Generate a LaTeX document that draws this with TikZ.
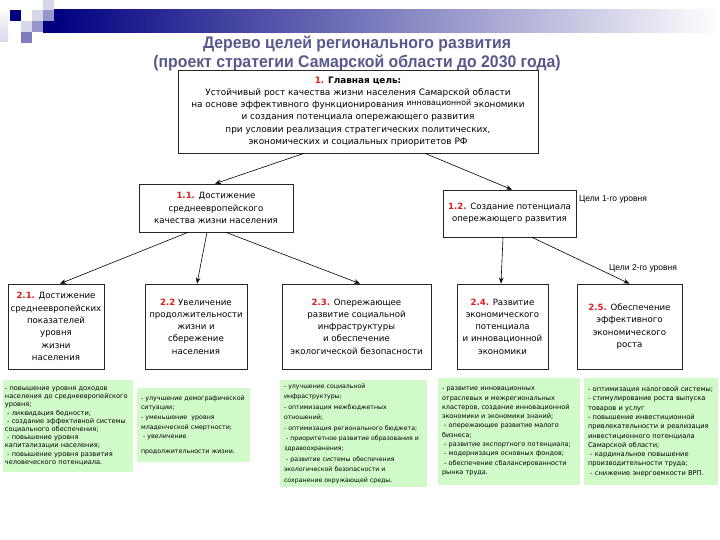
\documentclass[tikz,border=0pt]{standalone}
\usepackage{fontspec}
\setmainfont{DejaVu Sans}
\newfontfamily\titlefont[FakeStretch=0.94]{Liberation Sans}
\newfontfamily\labelfont{Liberation Sans}
\usetikzlibrary{arrows.meta}
\definecolor{titleblue}{RGB}{88,88,140}
\definecolor{numred}{RGB}{220,30,30}
\definecolor{navy}{RGB}{0,0,128}
\definecolor{greenfill}{RGB}{208,250,200}
\definecolor{lav1}{RGB}{215,215,235}
\definecolor{lav2}{RGB}{150,150,205}
\definecolor{lav3}{RGB}{125,125,190}
\newcommand{\nr}[1]{\textcolor{numred}{\textbf{#1}}}
\begin{document}
\begin{tikzpicture}[x=1pt,y=-1pt,
  goal/.style={draw=black!85, line width=0.7pt, fill=white, align=center, inner sep=2pt,
    font=\fontsize{8.6}{12.3}\selectfont},
  note/.style={fill=greenfill, draw=none, align=left, inner sep=4pt,
    font=\fontsize{6.2}{8.2}\selectfont},
  conn/.style={-{Stealth[length=6pt,width=4.5pt]}, line width=0.6pt},
  lvl/.style={font=\labelfont\fontsize{8.5}{10}\selectfont, anchor=west, inner sep=0pt}]

\useasboundingbox (0,0) rectangle (720,540);
\fill[white] (0,0) rectangle (720,540);

% header decoration
\shade[left color=navy, right color=white] (54,10) rectangle (720,33);
\fill[navy] (43,21) rectangle (54,33);
\shade[top color=white, bottom color=lav1] (0,8) rectangle (8,42);
\fill[lav1] (43,0) rectangle (54,10);
\fill[navy] (10,10) rectangle (21,21);
\fill[lav1] (32,10) rectangle (43,21);
\fill[lav2] (43,10) rectangle (54,21);
\fill[lav1] (21,21) rectangle (32,32);
\fill[lav2] (32,21) rectangle (43,32);
\fill[lav3] (21,32) rectangle (32,43);

% title
\node[font=\titlefont\bfseries\fontsize{16.8}{19}\selectfont, text=titleblue, align=center] (t) at (357,53)
  {Дерево целей регионального развития\\(проект стратегии Самарской области до 2030 года)};

% main goal
\node[goal, minimum width=360pt, minimum height=83pt, font=\fontsize{8.9}{12.3}\selectfont] (m) at (358,111.5)
  {\nr{1.} \textbf{Главная цель:}\\
   Устойчивый рост качества жизни населения Самарской области\\
   на основе эффективного функционирования \raisebox{2.5pt}{\fontsize{7.8}{8}\selectfont инновационной} экономики\\
   и создания потенциала опережающего развития\\
   при условии реализация стратегических политических,\\
   экономических и социальных приоритетов РФ};

% level 1
\node[goal, minimum width=154pt, minimum height=48pt] (b11) at (216,208)
  {\nr{1.1.} Достижение\\среднеевропейского\\качества жизни населения};
\node[goal, minimum width=133pt, minimum height=47pt] (b12) at (509.5,213.5)
  {\nr{1.2.} Создание потенциала\\опережающего развития};

% level 2
\node[goal, minimum width=96pt, minimum height=85pt] (b21) at (56,326.5)
  {\nr{2.1.} Достижение\\среднеевропейских\\показателей\\уровня\\жизни\\населения};
\node[goal, minimum width=102pt, minimum height=85pt] (b22) at (196,326.5)
  {\nr{2.2} Увеличение\\продолжительности\\жизни и\\сбережение\\населения};
\node[goal, minimum width=149pt, minimum height=85pt] (b23) at (356.5,326.5)
  {\nr{2.3.} Опережающее\\развитие социальной\\инфраструктуры\\и обеспечение\\экологической безопасности};
\node[goal, minimum width=91pt, minimum height=85pt] (b24) at (502.5,326.5)
  {\nr{2.4.} Развитие\\экономического\\потенциала\\и инновационной\\экономики};
\node[goal, minimum width=105pt, minimum height=85pt] (b25) at (629.5,326.5)
  {\nr{2.5.} Обеспечение\\эффективного\\экономического\\роста};

% level labels
\node[lvl] (l1) at (579,199) {Цели 1-го уровня};
\node[lvl] (l2) at (609,268) {Цели 2-го уровня};

% connectors
\draw[conn] ([xshift=-54pt]m.south) -- ([xshift=-1pt]b11.north);
\draw[conn] ([xshift=67pt]m.south) -- ([xshift=2.5pt]b12.north);
\draw[conn] ([xshift=-28pt]b11.south) -- ([xshift=4pt]b21.north);
\draw[conn] ([xshift=-9pt]b11.south) -- ([xshift=1pt]b22.north);
\draw[conn] ([xshift=10pt]b11.south) -- ([xshift=3.5pt]b23.north);
\draw[conn] ([xshift=-6.5pt]b12.south) -- ([xshift=-1.5pt]b24.north);
\draw[conn] ([xshift=22.5pt]b12.south) -- ([xshift=0pt]b25.north);

% notes
\node[note, minimum width=130pt, minimum height=92pt, text width=126pt, inner sep=2pt,
  font=\fontsize{6.6}{8.2}\selectfont] (g1) at (68,426)
  {- повышение уровня доходов\\
   населения до среднеевропейского\\
   уровня;\\
   \ - ликвидация бедности;\\
   \ - создание эффективной системы\\
   социального обеспечения;\\
   \ - повышение уровня\\
   капитализации населения;\\
   \ - повышение уровня развития\\
   человеческого потенциала.};
\node[note, minimum width=113pt, minimum height=74pt, text width=105pt,
  font=\fontsize{6.3}{9.6}\selectfont] (g2) at (193.5,425)
  {- улучшение демографической\\
   ситуации;\\
   - уменьшение \ уровня\\
   младенческой смертности;\\
   \ - увеличение\\[5pt]
   продолжительности жизни.};
\node[note, minimum width=147pt, minimum height=107pt, text width=139pt,
  font=\fontsize{6.2}{10.4}\selectfont] (g3) at (353.5,433.5)
  {- улучшение социальной\\
   инфраструктуры;\\
   - оптимизация межбюджетных\\
   отношений;\\
   - оптимизация регионального бюджета;\\
   \ - приоритетное развитие образования и\\
   здравоохранения;\\
   \ - развитие системы обеспечения\\
   экологической безопасности и\\
   сохранение окружающей среды.};
\node[note, minimum width=142pt, minimum height=107pt, text width=134pt,
  font=\fontsize{6.5}{9.3}\selectfont] (g4) at (509,431.5)
  {- развитие инновационных\\
   отраслевых и межрегиональных\\
   кластеров, создание инновационной\\
   экономики и экономики знаний;\\
   \ - опережающее развитие малого\\
   бизнеса;\\
   \ - развитие экспортного потенциала;\\
   \ - модернизация основных фондов;\\
   \ - обеспечение сбалансированности\\
   рынка труда.};
\node[note, minimum width=134pt, minimum height=107pt, text width=126pt,
  font=\fontsize{6.7}{9.3}\selectfont] (g5) at (651,431.5)
  {- оптимизация налоговой системы;\\
   - стимулирование роста выпуска\\
   товаров и услуг\\
   - повышение инвестиционной\\
   привлекательности и реализация\\
   инвестиционного потенциала\\
   Самарской области;\\
   \ - кардинальное повышение\\
   производительности труда;\\
   \ - снижение энергоемкости ВРП.};
\end{tikzpicture}
\end{document}
